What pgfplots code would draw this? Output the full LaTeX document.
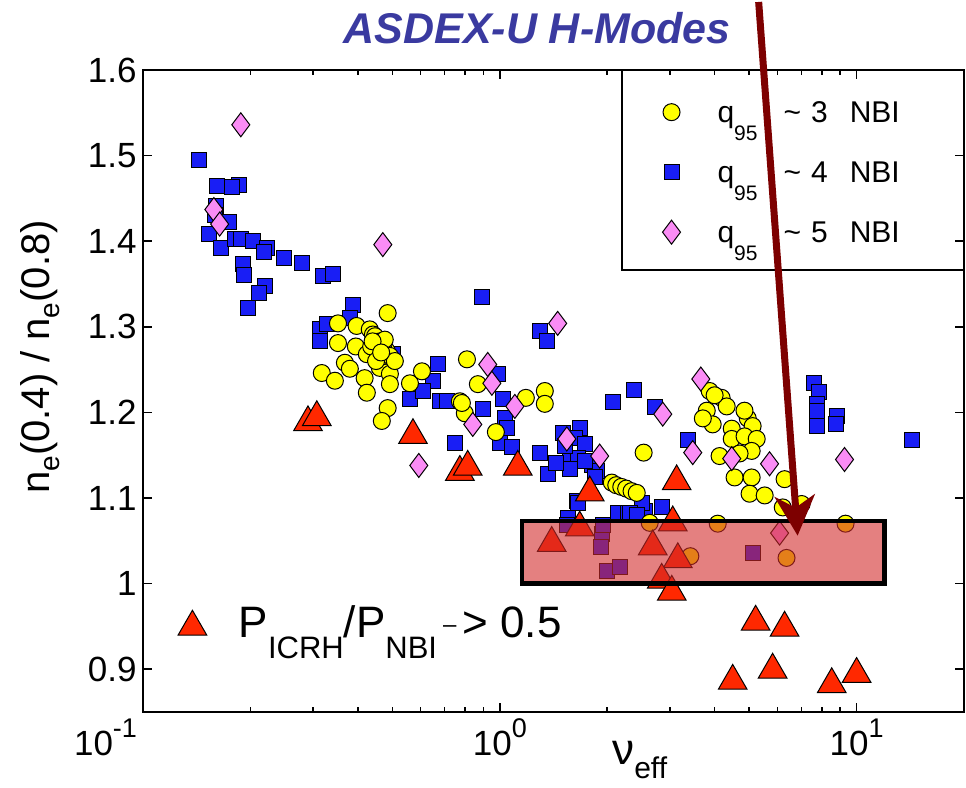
\documentclass[border=0pt]{standalone}
\usepackage{pgfplots}
\pgfplotsset{compat=1.18}
\usepackage{fontspec}
\setmainfont{Liberation Sans}
\usetikzlibrary{arrows.meta}
\definecolor{qyellow}{RGB}{255,255,0}
\definecolor{qblue}{RGB}{25,30,245}
\definecolor{qpink}{RGB}{250,140,245}
\definecolor{qred}{RGB}{255,40,0}
\definecolor{boxred}{RGB}{210,43,43}
\definecolor{arrowred}{RGB}{125,0,0}
\definecolor{titleblue}{RGB}{58,58,160}
\newcommand\sups[1]{\raisebox{9pt}{\fontsize{13.5}{13.5}\selectfont #1}}
\newcommand\qsub{\raisebox{-9pt}{\fontsize{10.5}{11}\selectfont 95}}
\newcommand\psub[1]{\raisebox{-10.5pt}{\fontsize{15.5}{16}\selectfont #1}}
\newcommand\esub{\raisebox{-5pt}{\fontsize{14}{14}\selectfont e}}
\pgfplotsset{
  sqstyle/.style={only marks, mark=square*, mark size=3.75pt, mark options={fill=qblue, draw=black, line width=0.5pt}},
  cistyle/.style={only marks, mark=*, mark size=4.25pt, mark options={fill=qyellow, draw=black, line width=0.5pt}},
  distyle/.style={only marks, mark=diamond*, mark size=6pt, mark options={fill=qpink, draw=black, line width=0.5pt}},
  tristyle/.style={only marks, mark=triangle*, mark size=8.25pt, mark options={fill=qred, draw=black, line width=0.5pt, yshift=-2pt}},
}
\begin{document}
\begin{tikzpicture}
\useasboundingbox (-71.5pt,-38pt) rectangle (411.5pt,356pt);
\begin{axis}[
  at={(0,0)}, anchor=south west,
  scale only axis, width=410.5pt, height=321pt,
  xmode=log, xmin=0.1, xmax=20, ymin=0.85, ymax=1.6,
  clip=false, clip marker paths=true,
  axis line style={line width=1pt},
  tick style={line width=0.8pt, black},
  major tick length=4.5pt, minor tick length=2.5pt,
  tick align=inside,
  xtick={0.1,1,10},
  xticklabels={{\hbox to 0pt{\hss 10\sups{-1}\kern3pt}}, {10\sups{0}}, {10\sups{1}}},
  ytick={0.9,1.0,1.1,1.2,1.3,1.4,1.5,1.6},
  yticklabels={0.9,1,1.1,1.2,1.3,1.4,1.5,1.6},
  ticklabel style={font=\fontsize{17.5}{19}\selectfont},
  yticklabel style={inner xsep=3pt},
  /pgf/number format/assume math mode=true,
  xlabel={ν\raisebox{-7pt}{\fontsize{15}{15}\selectfont eff}},
  xlabel style={font=\fontsize{22}{24}\selectfont, at={(axis description cs:0.605,-0.035)}, anchor=north},
  ylabel={n\esub(0.4) / n\esub(0.8)},
  ylabel style={font=\fontsize{20}{22}\selectfont, at={(axis description cs:-0.125,0.553)}, anchor=center},
  legend style={at={(axis description cs:0.625,0.963)}, anchor=north west, draw=none, fill=none,
    font=\fontsize{15}{17}\selectfont, row sep=16pt,
    nodes={inner sep=2pt, text height=10pt, text depth=0pt},
    /tikz/every odd column/.append style={column sep=16.5pt}},
  legend cell align=left,
]
\addlegendimage{cistyle}
\addlegendentry{q\qsub\hspace{13pt}\textasciitilde\hspace{5pt}3\hspace{11pt}NBI}
\addlegendimage{sqstyle}
\addlegendentry{q\qsub\hspace{13pt}\textasciitilde\hspace{5pt}4\hspace{11pt}NBI}
\addlegendimage{distyle}
\addlegendentry{q\qsub\hspace{13pt}\textasciitilde\hspace{5pt}5\hspace{11pt}NBI}

% q95 ~ 4 NBI (blue squares)
\addplot[sqstyle, forget plot] coordinates {
(0.1435,1.495) (0.161,1.465) (0.186,1.466) (0.1775,1.463) (0.160,1.441) (0.159,1.431)
(0.174,1.422) (0.153,1.408) (0.165,1.392) (0.181,1.403) (0.188,1.402) (0.203,1.400)
(0.2225,1.392) (0.218,1.387) (0.248,1.380) (0.279,1.374) (0.319,1.359) (0.340,1.362)
(0.1905,1.373) (0.192,1.361) (0.220,1.348) (0.211,1.340) (0.197,1.322) (0.388,1.326)
(0.313,1.297) (0.313,1.283) (0.327,1.303) (0.380,1.310) (0.501,1.268) (0.670,1.256)
(0.649,1.237) (0.560,1.216) (0.608,1.225) (0.679,1.213) (0.711,1.213) (0.89,1.335)
(0.748,1.164) (1.295,1.295) (1.354,1.283) (0.987,1.245) (1.019,1.216) (0.896,1.204)
(1.033,1.193) (1.046,1.182) (1.0,1.164) (1.080,1.159) (1.295,1.152) (1.362,1.128)
(1.501,1.176) (1.675,1.182) (1.622,1.170) (1.730,1.163) (1.571,1.147) (1.653,1.147)
(1.571,1.134) (1.811,1.138) (1.870,1.132) (1.52,1.161) (1.73,1.143) (1.44,1.141)
(1.643,1.097) (1.845,1.124) (2.141,1.082) (2.284,1.082) (2.547,1.085) (2.843,1.089)
(2.499,1.094) (2.073,1.212) (2.372,1.226) (2.717,1.206) (3.365,1.168) (1.550,1.077)
(1.653,1.094) (2.312,1.082) (2.42,1.08) (7.580,1.234) (7.834,1.224) (7.733,1.210)
(7.733,1.202) (7.733,1.184) (8.793,1.196) (8.734,1.186) (14.26,1.168)
(1.931,1.058) (1.918,1.043) (1.995,1.015) (2.168,1.019) (5.112,1.036) (1.541,1.068) (1.95,1.068)
};
% q95 ~ 3 NBI (yellow circles)
\addplot[cistyle, forget plot] coordinates {
(0.485,1.316) (0.352,1.304) (0.397,1.301) (0.432,1.297) (0.352,1.281) (0.395,1.277)
(0.441,1.291) (0.461,1.275) (0.424,1.268) (0.482,1.272) (0.368,1.258) (0.317,1.246)
(0.345,1.237) (0.380,1.251) (0.418,1.240) (0.461,1.252) (0.492,1.245) (0.492,1.233)
(0.560,1.234) (0.605,1.248) (0.424,1.223) (0.485,1.205) (0.467,1.190)
(0.447,1.289) (0.461,1.283) (0.470,1.277) (0.455,1.269) (0.476,1.266) (0.436,1.277)
(0.492,1.266) (0.508,1.260) (0.450,1.260) (0.476,1.285) (0.44,1.283) (0.465,1.27)
(0.809,1.262) (0.773,1.213) (0.798,1.199) (0.868,1.233) (0.783,1.211) (1.183,1.217)
(1.337,1.225) (1.337,1.210) (0.975,1.177) (2.530,1.153)
(2.06,1.118) (2.12,1.115) (2.19,1.113) (2.26,1.111) (2.34,1.108) (2.42,1.106)
(3.875,1.225) (4.185,1.217) (4.324,1.207) (3.802,1.202) (3.951,1.186) (4.467,1.181)
(4.953,1.193) (5.112,1.184) (4.467,1.169) (4.853,1.172) (5.248,1.169) (5.080,1.155)
(4.130,1.149) (4.699,1.152) (4.550,1.124) (5.080,1.124) (5.012,1.105) (5.525,1.103)
(6.283,1.122) (6.209,1.089) (7.013,1.093) (3.707,1.193) (4.0,1.22) (4.85,1.202)
(2.631,1.071) (4.081,1.070) (9.311,1.070) (6.362,1.030) (3.42,1.032)
};
% q95 ~ 5 NBI (pink diamonds)
\addplot[distyle, forget plot] coordinates {
(0.188,1.536) (0.158,1.437) (0.164,1.420) (0.470,1.396) (1.453,1.304) (0.925,1.256)
(0.950,1.234) (1.102,1.207) (0.840,1.186) (1.541,1.169) (1.905,1.149) (2.862,1.198)
(3.659,1.239) (3.474,1.153) (4.467,1.146) (5.702,1.140) (9.250,1.145) (6.083,1.059)
(0.593,1.138)
};
% P_ICRH/P_NBI > 0.5 (red triangles)
\addplot[tristyle, forget plot] coordinates {
(0.290,1.193) (0.307,1.199) (0.571,1.178) (0.773,1.135) (0.813,1.141) (1.123,1.141)
(1.787,1.111) (3.131,1.124) (1.398,1.052) (1.675,1.070) (2.683,1.048) (3.154,1.033)
(2.843,1.009) (3.034,0.995) (3.053,1.076) (5.212,0.960) (6.283,0.953) (4.495,0.891)
(5.816,0.904) (8.517,0.887) (10.0,0.899)
};
% highlighted region
\addplot[forget plot, draw=black, line width=2.2pt, line join=miter, fill=boxred, fill opacity=0.6]
  coordinates {(1.152,1.0) (11.98,1.0) (11.98,1.073) (1.152,1.073)} -- cycle;
% legend frame
\draw[line width=1pt] (axis description cs:0.583,1) -- (axis description cs:0.583,0.688) -- (axis description cs:1,0.688);
% title
\node[font=\fontsize{21.5}{24}\selectfont\bfseries\itshape, text=titleblue] at (axis description cs:0.480,1.065) {ASDEX-U H-Modes};
% arrow
\draw[arrowred, line width=3.5pt, -{Stealth[length=20pt, width=20pt, inset=6pt]}] (axis cs:5.315,1.6795) -- (axis cs:6.835,1.056);
\end{axis}
\begin{axis}[
  at={(0,0)}, anchor=south west,
  scale only axis, width=410.5pt, height=321pt,
  hide axis, xmode=log, xmin=0.1, xmax=20, ymin=0.85, ymax=1.6,
  legend style={at={(axis description cs:0.035,0.139)}, anchor=west, draw=none, fill=none,
    font=\fontsize{22}{24}\selectfont,
    nodes={inner sep=2pt, text height=15pt, text depth=0pt},
    /tikz/every odd column/.append style={column sep=14pt}},
]
\addlegendimage{tristyle}
\addlegendentry{P\psub{ICRH}/P\psub{NBI}\kern3pt\raisebox{2.5pt}{\fontsize{12}{12}\selectfont --}\kern3pt> 0.5}
\addplot[draw=none, forget plot] coordinates {(1,1)};
\end{axis}
\end{tikzpicture}
\end{document}
